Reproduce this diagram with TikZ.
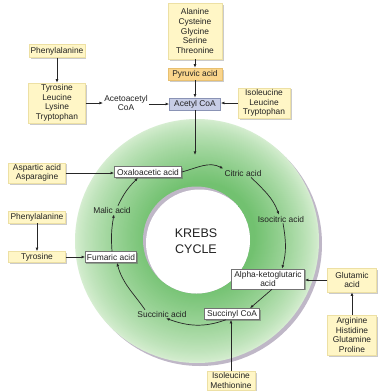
\documentclass[tikz,border=0pt]{standalone}
\usepackage{fontspec}
\setmainfont{Liberation Sans}
\usetikzlibrary{arrows.meta,shadows,calc}
\definecolor{boxyellow}{HTML}{FFF6C6}
\definecolor{boxyellowline}{HTML}{EDE0A4}
\definecolor{pyrfill}{HTML}{FAD58C}
\definecolor{pyrline}{HTML}{E8C070}
\definecolor{acfill}{HTML}{C7CDE6}
\definecolor{acline}{HTML}{8A93B5}
\definecolor{ringin}{HTML}{72C170}
\definecolor{ringout}{HTML}{D6EED1}
\definecolor{ringshadow}{HTML}{BFB7C7}
\definecolor{txt}{HTML}{222222}
\begin{document}
\begin{tikzpicture}[x=1pt,y=1pt,
  font=\fontsize{8.4}{9.6}\selectfont, text=txt,
  boxshadow/.style={drop shadow={shadow xshift=1.5pt, shadow yshift=-1.5pt, fill=black!40}},
  ybox/.style={fill=boxyellow, draw=boxyellowline, line width=0.4pt, align=center, inner sep=1.5pt, boxshadow},
  pbox/.style={fill=pyrfill, draw=pyrline, line width=0.4pt, align=center, inner sep=1.5pt, boxshadow},
  abox/.style={fill=acfill, draw=acline, line width=0.5pt, align=center, inner sep=1.5pt},
  wbox/.style={fill=white, draw=black!55, line width=0.5pt, align=center, inner sep=1.5pt, drop shadow={shadow xshift=1pt, shadow yshift=-1pt, fill=black!60}},
  lbl/.style={inner sep=1pt, align=center},
  arr/.style={draw=black!85, line width=0.7pt, -{Latex[length=3.6pt,width=2.8pt]}}
]
\useasboundingbox (0,0) rectangle (381,-392);
\fill[white] (0,0) rectangle (381,-392);

% ring
\fill[ringshadow] (200,-244) circle (122);
\foreach \i in {0,...,69} {
  \pgfmathsetmacro\rr{122-\i}
  \pgfmathsetmacro\pp{100*(\i/69)^0.8}
  \pgfmathsetmacro\cx{197+5*\i/69}
  \pgfmathsetmacro\cy{-241+5*\i/69}
  \fill[ringin!\pp!ringout] (\cx,\cy) circle (\rr);
}
\begin{scope}
  \clip (196.5,-240) circle (53.5);
  \fill[ringshadow] (196.5,-240) circle (53.5);
  \fill[white] (199.5,-243) circle (53.5);
\end{scope}
\node[lbl, font=\fontsize{12.5}{15.5}\selectfont] (krebs) at (196,-241) {KREBS\\CYCLE};

% top
\node[ybox, minimum width=54pt, minimum height=56pt] (ala) at (195,-31) {Alanine\\Cysteine\\Glycine\\Serine\\Threonine};
\node[pbox, minimum width=54pt, minimum height=12pt] (pyr) at (195,-74) {Pyruvic acid};
\node[abox, minimum width=51pt, minimum height=12pt] (acetyl) at (195,-104) {Acetyl CoA};
\node[lbl] (acac) at (126,-103) {Acetoacetyl\\CoA};
\node[ybox, minimum width=57pt, minimum height=40pt] (tyr4) at (57,-103) {Tyrosine\\Leucine\\Lysine\\Tryptophan};
\node[ybox, minimum width=55pt, minimum height=13pt] (phe1) at (57,-51) {Phenylalanine};
\node[ybox, minimum width=52pt, minimum height=30pt] (ileu3) at (264,-103) {Isoleucine\\Leucine\\Tryptophan};

% left
\node[ybox, minimum width=57pt, minimum height=20pt] (asp) at (37,-173) {Aspartic acid\\Asparagine};
\node[wbox, minimum width=67pt, minimum height=11pt] (oxa) at (148,-172) {Oxaloacetic acid};
\node[lbl] (malic) at (112,-210) {Malic acid};
\node[ybox, minimum width=57pt, minimum height=12pt] (phe2) at (37,-217) {Phenylalanine};
\node[ybox, minimum width=57pt, minimum height=11pt] (tyr) at (37,-257) {Tyrosine};
\node[wbox, minimum width=51pt, minimum height=11pt] (fum) at (111,-257) {Fumaric acid};

% right / bottom
\node[lbl] (citric) at (243,-173) {Citric acid};
\node[lbl] (isocitric) at (281,-219) {Isocitric acid};
\node[wbox, minimum width=73pt, minimum height=20pt] (alpha) at (268,-279) {Alpha-ketoglutaric\\acid};
\node[ybox, minimum width=49pt, minimum height=24pt] (glu) at (352,-280) {Glutamic\\acid};
\node[ybox, minimum width=49pt, minimum height=40pt] (arg) at (352,-335) {Arginine\\Histidine\\Glutamine\\Proline};
\node[wbox, minimum width=55pt, minimum height=11pt] (succoa) at (232,-314) {Succinyl CoA};
\node[lbl] (succinic) at (162,-314) {Succinic acid};
\node[ybox, minimum width=48pt, anchor=north] (ilemet) at (231,-371) {Isoleucine\\Methionine};

% straight connectors
\draw[arr] (ala.south) -- (pyr.north);
\draw[arr] (pyr.south) -- (acetyl.north);
\coordinate (acin) at (195,-155);
\draw[arr] (acetyl.south) -- (acin);
\draw[arr] (acac.east |- acetyl.west) -- (acetyl.west);
\draw[arr] (tyr4.east) -- (tyr4.east -| acac.west);
\draw[arr] (phe1.south) -- (tyr4.north);
\draw[arr] (ileu3.west) -- (ileu3.west -| acetyl.east);
\draw[arr] (asp.east) -- (asp.east -| oxa.west);
\draw[arr] (phe2.south) -- (tyr.north);
\draw[arr] (tyr.east) -- (fum.west);
\draw[arr] (glu.west) -- (glu.west -| alpha.east);
\draw[arr] (arg.north) -- (glu.south);
\draw[arr] (ilemet.north) -- (ilemet.north |- succoa.south);

% cycle
\draw[arr] (oxa.east) to[out=15, in=152] (citric.north west);
\draw[arr] ([xshift=8pt]citric.south) to[out=-45, in=110] ([xshift=-2pt]isocitric.north);
\draw[arr] ([xshift=2pt]isocitric.south) to[out=-80, in=75] ([xshift=14pt]alpha.north);
\draw[arr] ([xshift=4pt]alpha.south) -- ([xshift=18pt]succoa.north);
\draw[arr] ([xshift=-6pt]succoa.south) to[out=200, in=-20] ([xshift=4pt]succinic.south);
\draw[arr] ([xshift=-17pt]succinic.north) to[out=125, in=-75] ([xshift=6pt]fum.south);
\draw[arr] ([xshift=1pt]fum.north) to[out=94, in=-100] ([xshift=2pt]malic.south);
\draw[arr] ([xshift=6pt]malic.north) to[out=65, in=-135] ([xshift=-10pt]oxa.south);
\end{tikzpicture}
\end{document}
